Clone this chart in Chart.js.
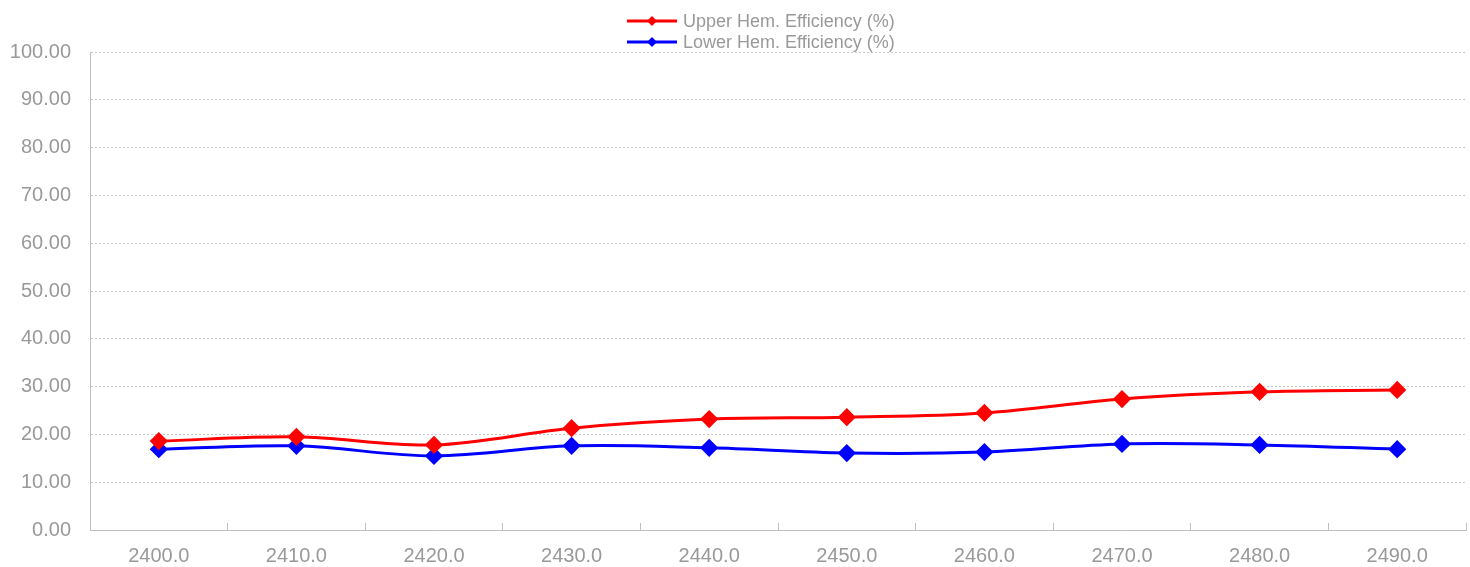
<!DOCTYPE html>
<html>
<head>
<meta charset="utf-8">
<script src="https://cdn.jsdelivr.net/npm/chart.js@4"></script>
<style>
  html, body { margin: 0; padding: 0; background: #fff; overflow: hidden; }
  #wrap { width: 1470px; height: 567px; }
</style>
</head>
<body>
<div id="wrap"><canvas id="myChart"></canvas></div>
<script>
// frequency points (MHz)
var frequencies = ['2400.0', '2410.0', '2420.0', '2430.0', '2440.0', '2450.0', '2460.0', '2470.0', '2480.0', '2490.0'];
var upperEff = [18.6, 19.5, 17.8, 21.3, 23.2, 23.6, 24.5, 27.4, 28.9, 29.3];
var lowerEff = [16.9, 17.6, 15.5, 17.6, 17.2, 16.1, 16.3, 18.0, 17.8, 16.9];
var seriesNames = ['Upper Hem. Efficiency (%)', 'Lower Hem. Efficiency (%)'];

var GRAY = '#999999';
var FONT = 'Liberation Sans, Arial, sans-serif';

// legend drawn by hand so the two entries stack like the original
var stackedLegend = {
    id: 'stackedLegend',
    afterDraw: function (chart) {
        var c = chart.ctx;
        c.save();
        c.font = '18px ' + FONT;
        c.textBaseline = 'middle';
        chart.data.datasets.forEach(function (ds, i) {
            var y = 21 + i * 21;
            var x0 = 627;
            c.strokeStyle = ds.borderColor;
            c.lineWidth = 3;
            c.beginPath();
            c.moveTo(x0, y);
            c.lineTo(x0 + 50, y);
            c.stroke();
            c.fillStyle = ds.borderColor;
            c.beginPath();
            c.moveTo(x0 + 25, y - 5);
            c.lineTo(x0 + 30, y);
            c.lineTo(x0 + 25, y + 5);
            c.lineTo(x0 + 20, y);
            c.closePath();
            c.fill();
            c.fillStyle = GRAY;
            c.fillText(ds.label, x0 + 56, y + 1);
        });
        c.restore();
    }
};

var ctx = document.getElementById('myChart').getContext('2d');
var myChart = new Chart(ctx, {
    type: 'line',
    data: {
        labels: frequencies,
        datasets: [
            {
                label: seriesNames[0],
                data: upperEff,
                borderColor: '#ff0000',
                backgroundColor: '#ff0000',
                borderWidth: 3,
                pointStyle: 'rectRot',
                pointRadius: 7,
                pointHoverRadius: 7,
                tension: 0.35
            },
            {
                label: seriesNames[1],
                data: lowerEff,
                borderColor: '#0000ff',
                backgroundColor: '#0000ff',
                borderWidth: 3,
                pointStyle: 'rectRot',
                pointRadius: 7,
                pointHoverRadius: 7,
                tension: 0.35
            }
        ]
    },
    options: {
        responsive: true,
        maintainAspectRatio: false,
        animation: false,
        layout: { autoPadding: false, padding: { top: 52, right: 4, bottom: 0, left: 0 } },
        plugins: {
            legend: { display: false },
            tooltip: { enabled: false }
        },
        scales: {
            x: {
                offset: true,
                afterFit: function (s) { s.height = 37; },
                grid: {
                    offset: true,
                    drawOnChartArea: false,
                    drawTicks: true,
                    tickLength: -7,
                    color: '#bfbfbf'
                },
                border: { color: '#bfbfbf', width: 1 },
                ticks: {
                    color: GRAY,
                    font: { family: FONT, size: 20 },
                    padding: 21,
                    maxRotation: 0
                }
            },
            y: {
                min: 0,
                max: 100,
                afterFit: function (s) { s.width = 90; },
                grid: {
                    color: '#c8c8c8',
                    drawTicks: false
                },
                border: { color: '#bfbfbf', width: 1, dash: [2, 2] },
                ticks: {
                    stepSize: 10,
                    color: GRAY,
                    padding: 19,
                    font: { family: FONT, size: 20 },
                    callback: function (v) { return v.toFixed(2); }
                }
            }
        }
    },
    plugins: [stackedLegend]
});
</script>
</body>
</html>
